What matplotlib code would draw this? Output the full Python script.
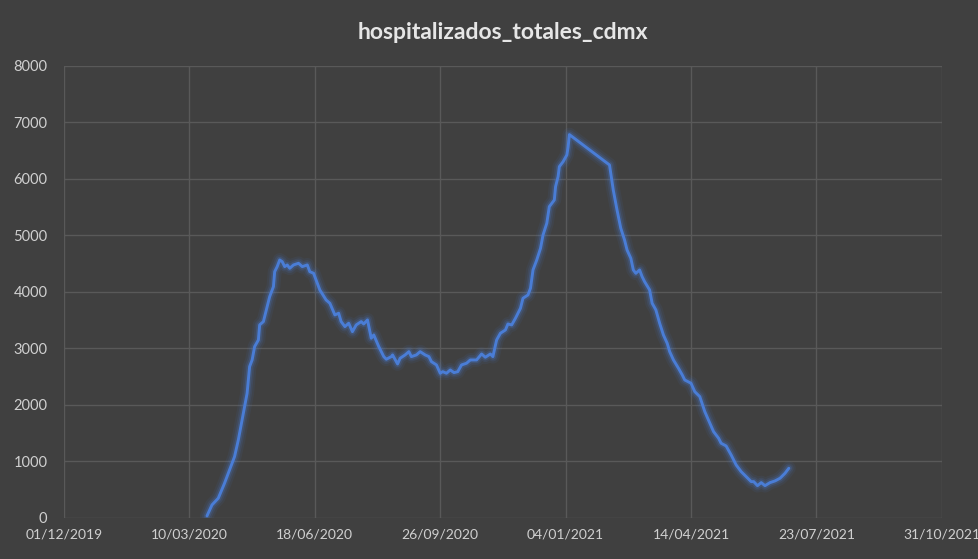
import matplotlib
matplotlib.use("Agg")
import matplotlib.pyplot as plt
import matplotlib.dates as mdates
import pandas as pd

# dias desde 01/12/2019 y hospitalizados totales
inicio = "2019-12-01"
dias = [114, 118, 123, 128, 132, 136, 139, 143, 146, 148, 150, 152, 155, 156, 159,
        162, 164, 167, 168, 170, 172, 174, 176, 178, 180, 183, 187, 190, 194, 196,
        199, 201, 204, 209, 212, 216, 219, 221, 224, 227, 230, 233, 237, 239, 242,
        245, 247, 251, 255, 257, 261, 262, 266, 268, 272, 275, 277, 281, 284, 288,
        291, 293, 297, 300, 302, 305, 308, 311, 314, 317, 321, 324, 329, 333, 336,
        340, 342, 345, 348, 352, 354, 357, 360, 364, 366, 370, 372, 374, 377, 380,
        382, 385, 387, 389, 391, 392, 394, 395, 398, 401, 402, 403, 435, 438, 441,
        444, 447, 449, 452, 454, 456, 459, 461, 463, 467, 469, 472, 475, 478, 481,
        483, 486, 490, 493, 495, 500, 503, 507, 511, 515, 518, 522, 524, 528, 532,
        536, 540, 544, 548, 550, 553, 556, 559, 563, 567, 571, 575, 578]
hospitalizados = [30, 225, 343, 609, 844, 1080, 1375, 1848, 2202, 2673, 2791, 3027, 3145, 3411, 3470,
                  3735, 3912, 4089, 4354, 4443, 4561, 4531, 4443, 4473, 4414, 4473, 4502, 4443, 4473, 4354,
                  4325, 4207, 4030, 3853, 3795, 3588, 3618, 3470, 3381, 3441, 3292, 3411, 3470, 3428, 3500,
                  3175, 3234, 3027, 2850, 2804, 2850, 2880, 2720, 2821, 2880, 2938, 2850, 2880, 2938, 2880,
                  2850, 2761, 2703, 2556, 2584, 2556, 2614, 2567, 2584, 2703, 2733, 2791, 2791, 2897, 2839,
                  2897, 2850, 3145, 3264, 3322, 3428, 3411, 3529, 3706, 3883, 3942, 4060, 4384, 4561, 4768,
                  5004, 5211, 5505, 5565, 5623, 5859, 6036, 6213, 6301, 6420, 6560, 6780, 6243, 5800, 5446,
                  5122, 4915, 4738, 4591, 4384, 4325, 4384, 4266, 4177, 4030, 3795, 3676, 3441, 3234, 3087,
                  2938, 2791, 2644, 2526, 2437, 2379, 2230, 2142, 1876, 1671, 1522, 1405, 1317, 1269, 1110,
                  933, 814, 726, 637, 637, 566, 620, 566, 620, 650, 697, 786, 874]

fechas = pd.Timestamp(inicio) + pd.to_timedelta(dias, unit="D")
ticks_x = pd.date_range(inicio, periods=8, freq="100D")

bg = "#404040"
grid = "#595959"
txt = "#d0d0d0"
azul = "#4a7dd6"

plt.rcParams["font.family"] = ["Lato", "DejaVu Sans"]
fig = plt.figure(figsize=(9.79, 5.59), dpi=100, facecolor=bg)
ax = fig.add_axes([0.0654, 0.074, 0.8966, 0.8085], facecolor=bg)

# brillo alrededor de la linea
for w, a in [(10, 0.08), (7, 0.12), (4.5, 0.22)]:
    ax.plot(fechas, hospitalizados, color=azul, linewidth=w, alpha=a,
            solid_capstyle="round", solid_joinstyle="round")
ax.plot(fechas, hospitalizados, color=azul, linewidth=2.1,
        solid_capstyle="round", solid_joinstyle="round")

ax.set_xlim(ticks_x[0], ticks_x[-1])
ax.set_ylim(0, 8000)
ax.set_xticks(ticks_x)
ax.xaxis.set_major_formatter(mdates.DateFormatter("%d/%m/%Y"))
ax.set_yticks(range(0, 8001, 1000))
ax.grid(True, color=grid, linewidth=1)
ax.set_axisbelow(True)
for s in ax.spines.values():
    s.set_visible(False)
ax.tick_params(length=0, colors=txt, labelsize=10, pad=8)
ax.tick_params(axis="y", pad=12, labelsize=10.5)

fig.text(0.514, 0.942, "hospitalizados_totales_cdmx", color="#e6e6e6",
         fontsize=16.5, fontweight="bold", ha="center", va="center")

fig.savefig("out.png", dpi=100, facecolor=bg)
